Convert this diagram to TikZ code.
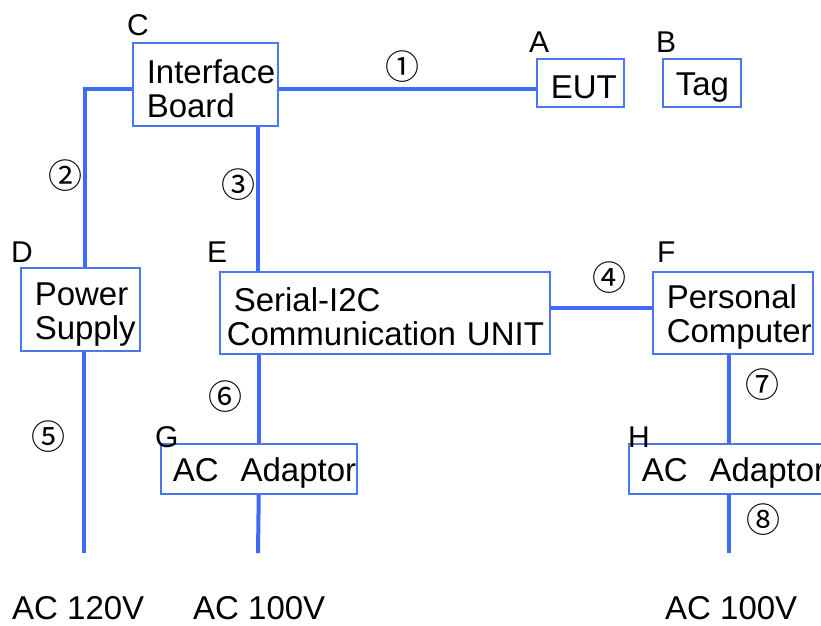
\documentclass[tikz,border=0pt]{standalone}
\usepackage{fontspec}
\setmainfont{Liberation Sans}
\newfontfamily\circfont{Noto Sans CJK JP}
\usetikzlibrary{positioning, calc}
\definecolor{wireblue}{RGB}{61,106,246}
\definecolor{boxblue}{RGB}{74,118,240}
\newcommand{\boxstrut}{\rule[-1pt]{0pt}{34pt}}

\begin{document}
\begin{tikzpicture}[x=1pt, y=-1pt,
    box/.style={draw=boxblue, line width=1.5pt, anchor=north west, inner xsep=14pt, inner ysep=0pt,
        align=left, font=\fontsize{33}{34}\selectfont,
        execute at begin node=\boxstrut, execute at end node=\boxstrut},
    wire/.style={draw=wireblue, line width=4pt},
    idlabel/.style={anchor=base west, inner sep=0pt, font=\fontsize{30}{34}\selectfont},
    num/.style={inner sep=0pt, font=\circfont\fontsize{34}{34}\selectfont},
    mains/.style={anchor=base west, inner sep=0pt, font=\fontsize{33}{34}\selectfont}]
    \useasboundingbox (0,0) rectangle (821,625);

    % Boards and units
    \node[box, text width=117pt, minimum height=83pt] (ib) at (132,42) {Interface\\Board};
    \node[box, text width=59pt, minimum height=48pt] (eut) at (536,58) {EUT};
    \node[box, inner xsep=13pt, text width=52pt, minimum height=48pt] (tag) at (662,58) {Tag};
    \node[box, text width=91pt, minimum height=83pt] (ps) at (20,267) {Power\\Supply};
    \node[box, inner xsep=7pt, text width=316pt, minimum height=82pt] (comm) at (219,271) {\hspace*{7pt}Serial-I2C\\\mbox{Communication UNIT}};
    \node[box, text width=132pt, minimum height=82pt] (pc) at (652,271) {Personal\\Computer};
    \node[box, inner xsep=12pt, text width=172pt, minimum height=50pt] (acg) at (160,443) {AC~~Adaptor};
    \node[box, inner xsep=13pt, text width=170pt, minimum height=50pt] (ach) at (628,443) {AC~~Adaptor};

    % Letters
    \node[idlabel] (lA) at (529,52) {A};
    \node[idlabel] (lB) at (656,52) {B};
    \node[idlabel] (lC) at (127,35) {C};
    \node[idlabel] (lD) at (11,262) {D};
    \node[idlabel] (lE) at (207,262) {E};
    \node[idlabel] (lF) at (657,262) {F};
    \node[idlabel] (lG) at (155,447) {G};
    \node[idlabel] (lH) at (628,447) {H};

    % Mains
    \node[mains] (m120) at (12,619) {AC 120V};
    \node[mains] (m100g) at (193,619) {AC 100V};
    \node[mains] (m100h) at (665,619) {AC 100V};
    \coordinate (e5) at (84,553);
    \coordinate (e6) at (258,553);
    \coordinate (e8) at (729,553);

    % Cables
    \draw[wire] ([yshift=-4.5pt]ib.east) -- ([yshift=-4.5pt]ib.east -| eut.west);
    \draw[wire] ([yshift=-4.5pt]ib.west) -| ([xshift=4.5pt]ps.north);
    \draw[wire] ([xshift=52.5pt]ib.south) -- ([xshift=52.5pt]ib.south |- comm.north);
    \draw[wire] ([yshift=5pt]comm.east) -- ([yshift=5pt]comm.east -| pc.west);
    \draw[wire] (e5 |- ps.south) -- (e5);
    \draw[wire] (acg.north |- comm.south) -- (acg.north);
    \draw[wire] (acg.south) -- (e6);
    \draw[wire] (e8 |- pc.south) -- (e8 |- ach.north);
    \draw[wire] (e8 |- ach.south) -- (e8);

    % Cable numbers
    \node[num] (n1) at (402,67) {①};
    \node[num] (n2) at (65,176) {②};
    \node[num] (n3) at (238,185) {③};
    \node[num] (n4) at (609,278) {④};
    \node[num] (n5) at (48,437) {⑤};
    \node[num] (n6) at (225,397) {⑥};
    \node[num] (n7) at (762,385) {⑦};
    \node[num] (n8) at (763,520) {⑧};
\end{tikzpicture}
\end{document}
